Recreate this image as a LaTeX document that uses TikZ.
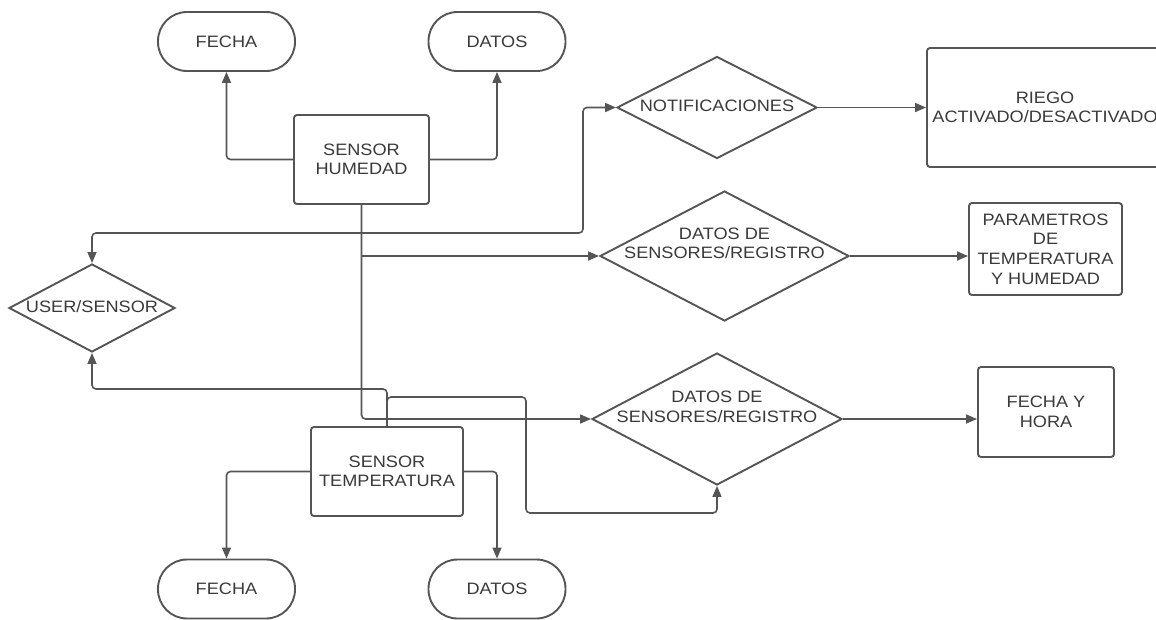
\documentclass[tikz,border=0pt]{standalone}
\usepackage{fontspec}
\newfontfamily\lblfont{Liberation Sans}[FakeStretch=1.1]
\usetikzlibrary{shapes.geometric,arrows.meta}
\definecolor{edge}{HTML}{555555}
\definecolor{ink}{HTML}{3A3A3A}

\begin{document}
\begin{tikzpicture}[x=1pt,y=-1pt,
  txt/.style={font=\lblfont\fontsize{16.5}{19.6}\selectfont, text=ink, align=center, inner sep=0pt},
  pill/.style={txt, draw=edge, line width=1.9pt, rounded corners=29pt, minimum width=137pt, minimum height=59pt},
  box/.style={txt, draw=edge, line width=1.9pt, rounded corners=3pt},
  rhomb/.style={diamond, draw=edge, line width=1.9pt, inner sep=0pt},
  conn/.style={draw=edge, line width=1.6pt, rounded corners=4pt, -{Triangle[length=11pt,width=9pt]}}
]
% page area
\fill[white] (0,0) rectangle (1156,619);
\clip (0,0) rectangle (1156,619);

% sensors and their outputs
\node[pill] (fechaA) at (226.5,41.5) {FECHA};
\node[pill] (datosA) at (497,41.5) {DATOS};
\node[box, minimum width=135pt, minimum height=89pt] (hum) at (361.5,159.5) {SENSOR\\HUMEDAD};
\node[box, minimum width=152pt, minimum height=89pt] (temp) at (387,471.5) {SENSOR\\TEMPERATURA};
\node[pill] (fechaB) at (226.5,589) {FECHA};
\node[pill] (datosB) at (497,589) {DATOS};

% decisions
\node[rhomb, minimum width=166pt, minimum height=88pt] (user) at (92,308) {};
\node[txt] (userT) at (92,307) {USER/SENSOR};
\node[rhomb, minimum width=200pt, minimum height=102pt] (notif) at (717,107.5) {};
\node[txt] (notifT) at (717,106) {NOTIFICACIONES};
\node[rhomb, minimum width=249pt, minimum height=130pt] (regA) at (724.5,256) {};
\node[txt] (regAT) at (724.5,243.5) {DATOS DE\\SENSORES/REGISTRO};
\node[rhomb, minimum width=250pt, minimum height=132pt] (regB) at (717,419) {};
\node[txt] (regBT) at (717,407) {DATOS DE\\SENSORES/REGISTRO};

% results
\node[box, minimum width=236pt, minimum height=119pt] (riego) at (1045,107.5) {RIEGO\\ACTIVADO/DESACTIVADO};
\node[box, minimum width=153pt, minimum height=92pt] (param) at (1045.5,249) {PARAMETROS\\DE\\TEMPERATURA\\Y HUMEDAD};
\node[box, minimum width=136pt, minimum height=90pt] (fh) at (1046,412) {FECHA Y\\HORA};

% routing points
\coordinate (hb1) at (361.5,233);
\coordinate (nk) at (583,233);
\coordinate (tu) at (387,389);
\coordinate (tr1) at (526,397);
\coordinate (tr2) at (526,513);

% connectors
\draw[conn] (hum.west) -| (fechaA.south);
\draw[conn] (hum.east) -| (datosA.south);
\draw[conn] (hum.south) |- (regB.west);
\draw[conn] (hb1) -| (user.north);
\draw[conn] (hb1) -- (nk) |- (notif.west);
\draw[conn] (hum.south |- regA.west) -- (regA.west);
\draw[conn] (notif.east) -- (notif.east -| riego.west);
\draw[conn] (regA.east) -- (regA.east -| param.west);
\draw[conn] (regB.east) -- (regB.east -| fh.west);
\draw[conn] (temp.west) -| (fechaB.north);
\draw[conn] (temp.east) -| (datosB.north);
\draw[conn] (temp.north) -- (tu) -| (user.south);
\draw[conn] (temp.north) |- (tr1) -- (tr2) -| (regB.south);
\end{tikzpicture}
\end{document}
